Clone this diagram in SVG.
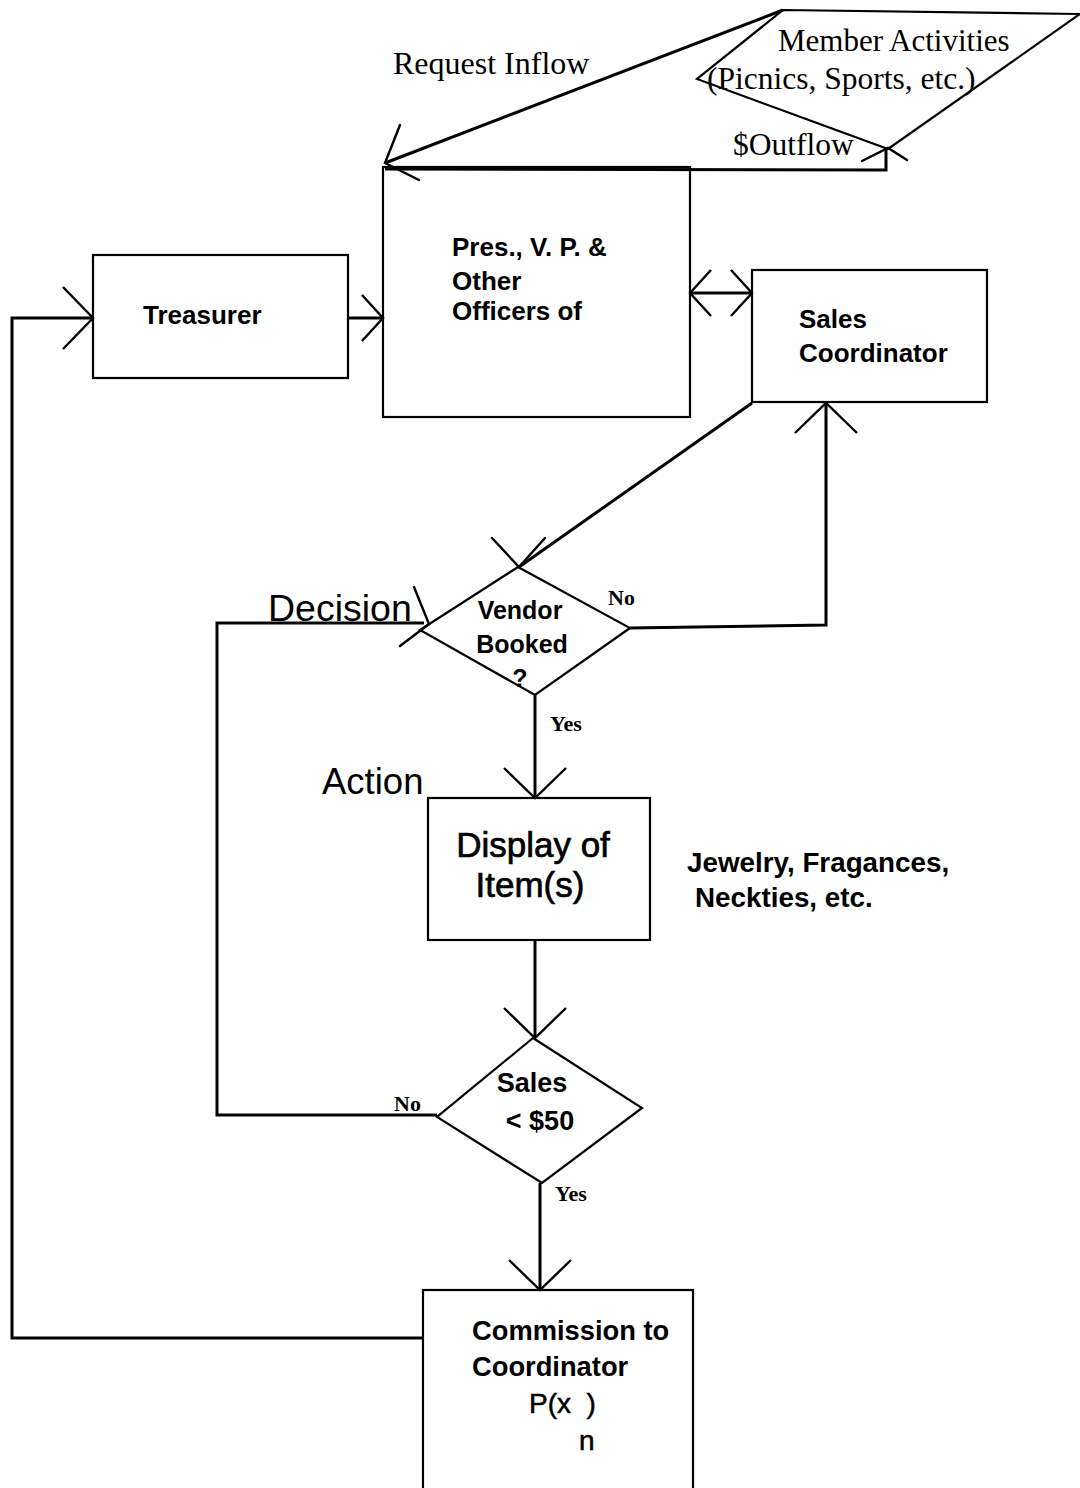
<svg xmlns="http://www.w3.org/2000/svg" width="1080" height="1488" viewBox="0 0 1080 1488">
  <style>
    .shape { fill: none; stroke: #000; stroke-width: 2.2; }
    .ln { fill: none; stroke: #000; stroke-width: 3; stroke-linejoin: miter; }
    .head { fill: none; stroke: #000; stroke-width: 2.4; stroke-linecap: round; }
    .sans { font-family: "Liberation Sans", Arial, sans-serif; font-weight: bold; fill: #000; }
    .sansr { font-family: "Liberation Sans", Arial, sans-serif; fill: #000; }
    .serif { font-family: "Liberation Serif", "Times New Roman", serif; fill: #000; }
    .tag { font-family: "Liberation Serif", "Times New Roman", serif; font-weight: bold; font-size: 22px; fill: #000; }
  </style>
  <defs>
    <marker id="vee" markerUnits="userSpaceOnUse" viewBox="-34 -34 38 68" refX="0" refY="0" markerWidth="38" markerHeight="68" orient="auto-start-reverse">
      <path d="M-30,-31 L0,0 L-30,31" fill="none" stroke="#000" stroke-width="2.4"/>
    </marker>
    <marker id="veeSmall" markerUnits="userSpaceOnUse" viewBox="-26 -26 30 52" refX="0" refY="0" markerWidth="30" markerHeight="52" orient="auto-start-reverse">
      <path d="M-21,-23 L0,0 L-21,23" fill="none" stroke="#000" stroke-width="2.4"/>
    </marker>
  </defs>
  <rect width="1080" height="1488" fill="#fff"/>

  <!-- connectors -->
  <g id="connectors">
    <!-- request inflow from member activities to officers -->
    <path class="ln" d="M783,10 L385,163"/>
    <path class="head" d="M400,125 L385,163 L419,180"/>
    <!-- $ outflow from officers up to member activities -->
    <path class="ln" d="M385,169 L886,170 L886,150"/>
    <path class="head" d="M862,161 L888,148 L907,160"/>
    <!-- commission back to treasurer -->
    <path class="ln" d="M423,1338 L12,1338 L12,318 L93,318" marker-end="url(#vee)"/>
    <!-- treasurer to officers -->
    <path class="ln" d="M348,318 L383,318" marker-end="url(#veeSmall)"/>
    <!-- officers <-> sales coordinator -->
    <path class="ln" d="M690,293 L752,293" marker-start="url(#veeSmall)" marker-end="url(#veeSmall)"/>
    <!-- sales coordinator to vendor decision -->
    <path class="ln" d="M752,403 L519,567"/>
    <path class="head" d="M492,538 L519,567 L545,538"/>
    <!-- vendor booked: no, back to sales coordinator -->
    <path class="ln" d="M630,628 L826,625 L826,403" marker-end="url(#vee)"/>
    <!-- vendor booked: yes -->
    <path class="ln" d="M535,695 L535,798" marker-end="url(#vee)"/>
    <!-- display to sales decision -->
    <path class="ln" d="M535,940 L535,1038" marker-end="url(#vee)"/>
    <!-- sales < $50: no, loop back to vendor decision -->
    <path class="ln" d="M437,1115 L217,1115 L217,623 L424,623"/>
    <path class="head" d="M414,587 L429,624 L400,646"/>
    <!-- sales < $50: yes -->
    <path class="ln" d="M540,1183 L540,1290" marker-end="url(#vee)"/>
  </g>

  <g id="member-activities">
    <polygon class="shape" points="783,10 1080,14 888,149 697,79"/>
    <text class="serif" x="778" y="51" font-size="31">Member Activities</text>
    <text class="serif" x="707" y="89" font-size="31.5">(Picnics, Sports, etc.)</text>
  </g>
  <g id="request-inflow-label">
    <text class="serif" x="393" y="74" font-size="32">Request Inflow</text>
  </g>
  <g id="outflow-label">
    <text class="serif" x="733" y="155" font-size="31.5">$Outflow</text>
  </g>

  <g id="officers">
    <rect class="shape" x="383" y="167" width="307" height="250"/>
    <text class="sans" x="452" y="256" font-size="26">Pres., V. P. &amp;</text>
    <text class="sans" x="452" y="290" font-size="26">Other</text>
    <text class="sans" x="452" y="320" font-size="26">Officers of</text>
  </g>

  <g id="treasurer">
    <rect class="shape" x="93" y="255" width="255" height="123"/>
    <text class="sans" x="143" y="324" font-size="26">Treasurer</text>
  </g>

  <g id="sales-coordinator">
    <rect class="shape" x="752" y="270" width="235" height="132"/>
    <text class="sans" x="799" y="328" font-size="26">Sales</text>
    <text class="sans" x="799" y="362" font-size="26">Coordinator</text>
  </g>

  <g id="vendor-decision">
    <polygon class="shape" points="518,567 630,628 535,695 420,630"/>
    <text class="sans" x="520" y="619" font-size="25" text-anchor="middle">Vendor</text>
    <text class="sans" x="522" y="653" font-size="25" text-anchor="middle">Booked</text>
    <text class="sans" x="520" y="687" font-size="25" text-anchor="middle">?</text>
  </g>
  <g id="decision-label">
    <text class="sansr" x="268" y="621" font-size="37.5">Decision</text>
  </g>
  <text class="tag" x="608" y="605">No</text>
  <text class="tag" x="550" y="731">Yes</text>

  <g id="action-label">
    <text class="sansr" x="322" y="794" font-size="36.5">Action</text>
  </g>

  <g id="display">
    <rect class="shape" x="428" y="798" width="222" height="142"/>
    <text class="sansr" x="533" y="857" font-size="35" text-anchor="middle" stroke="#000" stroke-width="0.7">Display of</text>
    <text class="sansr" x="530" y="897" font-size="35" text-anchor="middle" stroke="#000" stroke-width="0.7">Item(s)</text>
  </g>
  <g id="items-note">
    <text class="sans" x="687" y="872" font-size="27.8">Jewelry, Fragances,</text>
    <text class="sans" x="695" y="907" font-size="27.8">Neckties, etc.</text>
  </g>

  <g id="sales-decision">
    <polygon class="shape" points="533,1038 642,1108 542,1183 437,1117"/>
    <text class="sans" x="532" y="1092" font-size="27" text-anchor="middle">Sales</text>
    <text class="sans" x="540" y="1130" font-size="27" text-anchor="middle">&lt; $50</text>
  </g>
  <text class="tag" x="394" y="1111">No</text>
  <text class="tag" x="555" y="1201">Yes</text>

  <g id="commission">
    <rect class="shape" x="423" y="1290" width="270" height="220"/>
    <text class="sans" x="472" y="1340" font-size="27.3">Commission to</text>
    <text class="sans" x="472" y="1376" font-size="27.3">Coordinator</text>
    <text class="sansr" x="529" y="1413" font-size="28" stroke="#000" stroke-width="0.5" xml:space="preserve">P(x  )</text>
    <text class="sansr" x="579" y="1450" font-size="28" stroke="#000" stroke-width="0.5">n</text>
  </g>
</svg>
